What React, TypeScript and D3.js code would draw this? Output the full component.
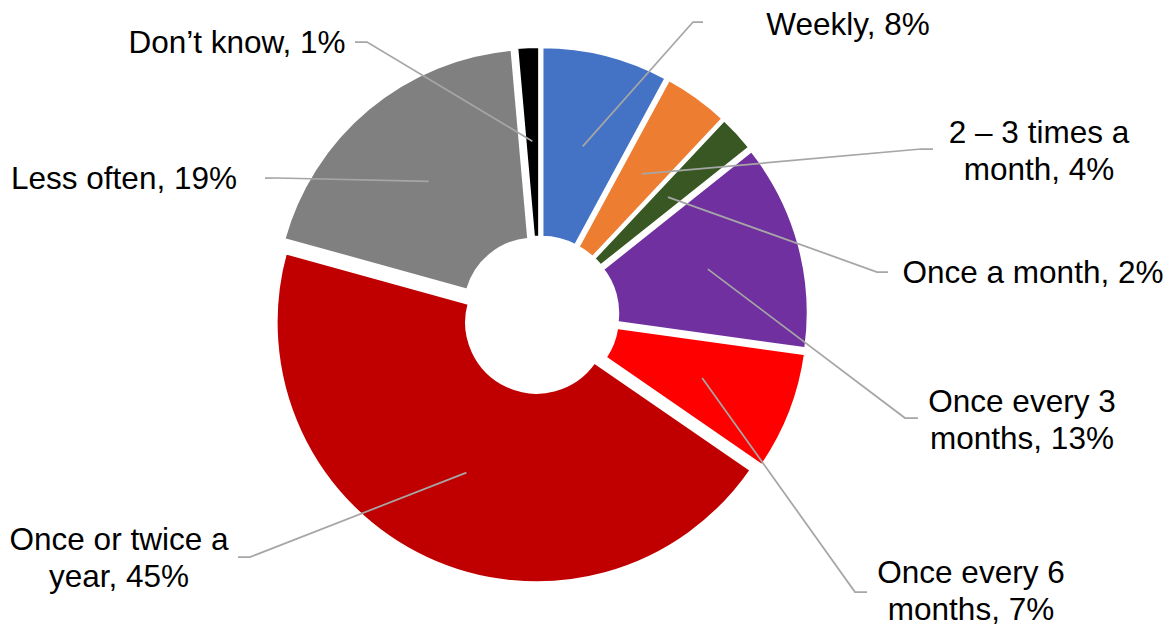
import React, { useEffect, useRef } from 'react';
import * as d3 from 'd3';

// Datos
const categories = [
  'Weekly',
  '2 – 3 times a month',
  'Once a month',
  'Once every 3 months',
  'Once every 6 months',
  'Once or twice a year',
  'Less often',
  'Don’t know',
];
const values = [7.9, 4.1, 2.3, 12.9, 7.4, 44.7, 19.3, 1.4];
const colors = ['#4472C4', '#ED7D31', '#385723', '#7030A0', '#FF0000', '#C00000', '#808080', '#000000'];
// words on the first line of each label (0 = one line)
const firstLineWords = [0, 5, 0, 3, 3, 4, 0, 0];

// label placement: text centre, first baseline, elbow of the leader, end of the leader
const labelLayout = [
  { x: 848, y: 35, bx: 693, by: 22, ex: 703 },
  { x: 1039, y: 143, bx: 921, by: 149, ex: 933 },
  { x: 1033, y: 283, bx: 877, by: 272, ex: 888 },
  { x: 1022, y: 412, bx: 905, by: 418, ex: 918 },
  { x: 971, y: 583, bx: 855, by: 592, ex: 867 },
  { x: 119, y: 550, bx: 250, by: 557, ex: 238 },
  { x: 124, y: 189, bx: 277, by: 178, ex: 265 },
  { x: 237, y: 53, bx: 367, by: 42, ex: 355 },
];

const App = () => {
  const ref = useRef<SVGSVGElement | null>(null);

  useEffect(() => {
    const width = 1176;
    const height = 627;
    const cx = 540;
    const cy = 315;
    const explode = 8;

    const svg = d3.select(ref.current);
    svg.selectAll('*').remove();
    svg.attr('width', width).attr('height', height);

    const data = categories.map((c, i) => ({ name: c, value: values[i], color: colors[i], i }));

    const pie = d3.pie<any>().sort(null).value(d => d.value);
    const arcs = pie(data);

    const arc = d3.arc<any>().innerRadius(70).outerRadius(260.5);

    const g = svg.append('g').attr('transform', `translate(${cx},${cy})`);

    const offset = (a: any, r: number) => {
      const m = (a.startAngle + a.endAngle) / 2;
      return [Math.sin(m) * r, -Math.cos(m) * r];
    };

    // Porciones
    g.selectAll('path')
      .data(arcs)
      .enter()
      .append('path')
      .attr('d', arc)
      .attr('transform', d => {
        const [dx, dy] = offset(d, explode);
        return `translate(${dx},${dy})`;
      })
      .attr('fill', d => d.data.color)
      .attr('stroke', '#fff')
      .attr('stroke-width', 3);

    // Lineas guia
    svg.selectAll('polyline')
      .data(arcs)
      .enter()
      .append('polyline')
      .attr('points', (d: any) => {
        const [px, py] = offset(d, 166 + explode);
        const l = labelLayout[d.index];
        return `${cx + px},${cy + py} ${l.bx},${l.by} ${l.ex},${l.by}`;
      })
      .attr('fill', 'none')
      .attr('stroke', '#A6A6A6')
      .attr('stroke-width', 1.75);

    // Etiquetas
    const labels = svg.selectAll('text.lbl')
      .data(arcs)
      .enter()
      .append('text')
      .attr('class', 'lbl')
      .attr('text-anchor', 'middle')
      .attr('font-family', '"Liberation Sans", Arial, sans-serif')
      .attr('font-size', '31.5px')
      .attr('fill', '#000');

    labels.each(function (d: any) {
      const l = labelLayout[d.index];
      const full = `${d.data.name}, ${Math.round(d.data.value)}%`;
      const words = full.split(' ');
      const n = firstLineWords[d.index];
      const lines = n > 0 ? [words.slice(0, n).join(' '), words.slice(n).join(' ')] : [full];
      const t = d3.select(this);
      lines.forEach((line, k) => {
        t.append('tspan')
          .attr('x', l.x)
          .attr('y', l.y + k * 36.5)
          .text(line);
      });
    });
  }, []);

  return <svg ref={ref} style={{ position: 'absolute', left: 0, top: 0 }} />;
};

export default App;
